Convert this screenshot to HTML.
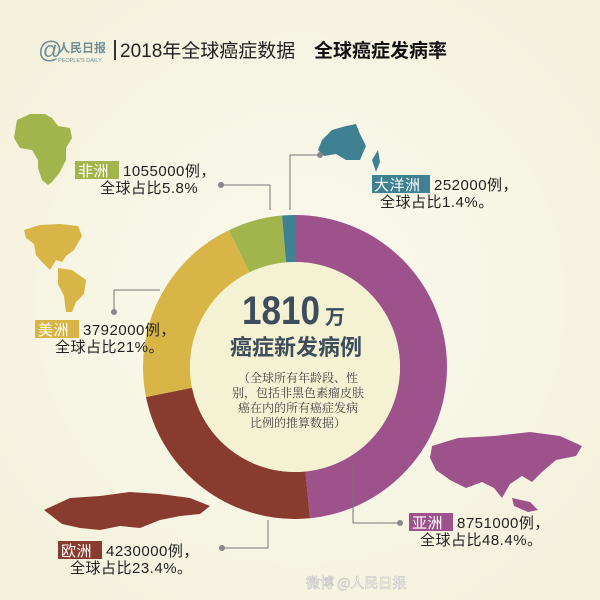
<!DOCTYPE html>
<html><head><meta charset="utf-8"><style>
body{margin:0;width:600px;height:600px;overflow:hidden;background:#f8f6e6;font-family:"Liberation Sans","Noto Sans CJK SC",sans-serif;}
svg{display:block}
</style></head><body>
<svg width="600" height="600" viewBox="0 0 600 600" xmlns="http://www.w3.org/2000/svg">
<defs><radialGradient id="bg" cx="50%" cy="50%" r="70%"><stop offset="0" stop-color="#fbf9ee"/><stop offset="1" stop-color="#f3f1da"/></radialGradient></defs>
<rect width="600" height="600" fill="url(#bg)"/>
<!-- header -->
<text x="38" y="58" font-size="24" fill="#6f8e97" font-family="Liberation Sans,sans-serif">@</text>
<text x="58" y="52" font-size="12" font-weight="bold" fill="#6f8e97" font-family="Noto Sans CJK SC,sans-serif">人民日报</text>
<text x="58" y="62" font-size="5.5" fill="#6f8e97">PEOPLE'S DAILY</text>
<rect x="114" y="40" width="2" height="20" fill="#333"/>
<text x="120" y="57" font-size="19" fill="#222" font-family="Liberation Sans,Noto Sans CJK SC,sans-serif">2018年全球癌症数据</text>
<text x="314" y="57" font-size="19" font-weight="bold" fill="#111" font-family="Noto Sans CJK SC,sans-serif">全球癌症发病率</text>
<!-- maps -->
<path d="M17 120 L30 114 L45 114 L52 118 L58 126 L70 128 L72 138 L66 148 L66 160 L60 172 L52 182 L48 185 L42 180 L38 168 L38 160 L32 150 L20 148 L14 138 Z" fill="#a2b44c"/>
<path d="M24 230 L40 225 L60 224 L78 226 L82 236 L74 250 L66 256 L62 262 L56 260 L50 270 L42 262 L36 255 L34 244 L26 238 Z" fill="#d8b546"/>
<path d="M58 268 L72 270 L86 280 L84 294 L76 302 L72 312 L66 312 L64 296 L58 284 Z" fill="#d8b546"/>
<path d="M322 140 L332 130 L346 126 L356 124 L360 134 L366 146 L360 160 L346 160 L336 154 L324 156 L318 150 Z" fill="#3f8193"/>
<path d="M372 160 L378 150 L380 162 L376 172 Z" fill="#3f8193"/>
<path d="M432 446 L458 438 L494 436 L530 432 L560 436 L582 446 L576 456 L556 460 L542 472 L532 482 L522 476 L510 484 L502 498 L494 488 L482 482 L466 488 L450 480 L436 470 L430 458 Z" fill="#9e528c"/>
<path d="M512 498 L530 502 L538 510 L528 512 L514 506 Z" fill="#9e528c"/>
<path d="M44 510 L70 498 L100 496 L130 492 L160 494 L190 498 L210 506 L200 514 L180 516 L160 520 L140 528 L120 526 L100 530 L80 528 L62 524 Z" fill="#8a3b2f"/>
<!-- donut -->
<g transform="rotate(-90 295 367)" fill="none" stroke-width="47">
<circle cx="295" cy="367" r="128.5" stroke="#9e528c" stroke-dasharray="390.8 1000" stroke-dashoffset="0"/>
<circle cx="295" cy="367" r="128.5" stroke="#8a3b2f" stroke-dasharray="188.9 1000" stroke-dashoffset="-390.8"/>
<circle cx="295" cy="367" r="128.5" stroke="#d8b546" stroke-dasharray="169.6 1000" stroke-dashoffset="-579.7"/>
<circle cx="295" cy="367" r="128.5" stroke="#a2b44c" stroke-dasharray="46.8 1000" stroke-dashoffset="-749.3"/>
<circle cx="295" cy="367" r="128.5" stroke="#3f8193" stroke-dasharray="11.3 1000" stroke-dashoffset="-796.1"/>
</g>
<circle cx="295" cy="367" r="105" fill="#f5f1d3"/>
<text x="242" y="324" font-size="40" font-weight="bold" fill="#3d4d5c" font-family="Liberation Sans,sans-serif" textLength="78" lengthAdjust="spacingAndGlyphs">1810</text>
<text x="325" y="324" font-size="20" font-weight="bold" fill="#3d4d5c" font-family="Noto Sans CJK SC,sans-serif">万</text>
<text x="296" y="355" font-size="22" font-weight="bold" fill="#3d4d5c" text-anchor="middle" font-family="Noto Sans CJK SC,sans-serif">癌症新发病例</text>
<g font-size="12" fill="#444" text-anchor="middle" font-family="Noto Serif CJK SC,serif">
<text x="298" y="382">（全球所有年龄段、性</text>
<text x="298" y="397">别，包括非黑色素瘤皮肤</text>
<text x="298" y="412">癌在内的所有癌症发病</text>
<text x="298" y="427">比例的推算数据）</text>
</g>
<!-- leaders -->
<g stroke="#777" fill="none" stroke-width="1">
<polyline points="221,185 270,185 270,210"/>
<polyline points="290,210 290,155 320,155"/>
<polyline points="114,312 114,290 160,290"/>
<polyline points="268,520 268,548 222,548"/>
<polyline points="353,465 353,523 400,523"/>
</g>
<g fill="#888"><circle cx="221" cy="185" r="3"/><circle cx="320" cy="155" r="3"/><circle cx="114" cy="312" r="3"/><circle cx="222" cy="548" r="3"/><circle cx="400" cy="523" r="3"/></g>
<!-- labels -->
<g font-size="15" fill="#222" font-family="Liberation Sans,Noto Sans CJK SC,sans-serif" letter-spacing="0.5">
<rect x="75" y="161" width="44" height="18" fill="#a2b44c"/><text x="78" y="176" fill="#fff">非洲</text>
<text x="123" y="176">1055000例，</text><text x="100" y="193">全球占比5.8%</text>
<rect x="372" y="175" width="58" height="18" fill="#3f8193"/><text x="374" y="190" fill="#fff">大洋洲</text>
<text x="434" y="190">252000例，</text><text x="380" y="207">全球占比1.4%。</text>
<rect x="35" y="320" width="44" height="18" fill="#d8b546"/><text x="38" y="335" fill="#fff">美洲</text>
<text x="83" y="335">3792000例，</text><text x="55" y="352">全球占比21%。</text>
<rect x="58" y="541" width="44" height="18" fill="#8a3b2f"/><text x="61" y="556" fill="#fff">欧洲</text>
<text x="106" y="556">4230000例，</text><text x="70" y="573">全球占比23.4%。</text>
<rect x="409" y="513" width="44" height="18" fill="#9e528c"/><text x="412" y="528" fill="#fff">亚洲</text>
<text x="457" y="528">8751000例，</text><text x="420" y="545">全球占比48.4%。</text>
</g>
<text x="306" y="588" font-size="14" fill="#fff" stroke="#bbb" stroke-width="0.5" font-family="Noto Sans CJK SC,sans-serif">微博 @人民日报</text>
</svg>
</body></html>
